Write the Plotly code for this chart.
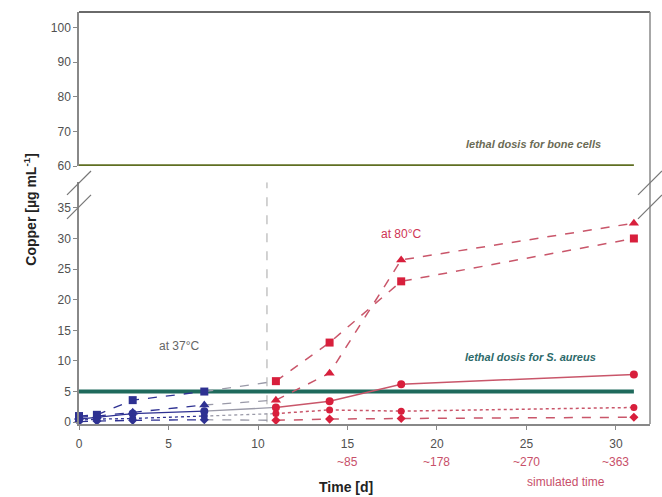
import plotly.graph_objects as go

# Sampling days
days_37 = [0, 1, 3, 7]
days_80 = [11, 14, 18, 31]

# Copper release [µg/mL] per sample, 37 °C phase then 80 °C phase
sq_37 = [1.0, 1.2, 3.6, 5.0]
sq_80 = [6.7, 13.0, 23.0, 30.0]
tri_37 = [0.8, 1.0, 1.6, 2.8]
tri_80 = [3.6, 8.0, 26.5, 32.5]
circ_37 = [0.5, 0.8, 1.4, 1.8]
circ_80 = [2.4, 3.4, 6.2, 7.8]
dot_37 = [0.3, 0.5, 0.6, 1.0]
dot_80 = [1.4, 2.0, 1.8, 2.4]
low_37 = [0.1, 0.2, 0.3, 0.4]
low_80 = [0.3, 0.5, 0.6, 0.8]

lethal_bone = 60
lethal_aureus = 5
phase_switch = 10.5

tick_x = [0, 5, 10, 15, 20, 25, 30]
sim_ticks = [15, 20, 25, 30]
sim_labels = ["~85", "~178", "~270", "~363"]

NAVY = "#2e3192"
RED = "#d81f3c"
REDLINE = "#c9566a"
GREY = "#888888"

series = [
    (sq_37, sq_80, "square", "dash", 8),
    (tri_37, tri_80, "triangle-up", "dash", 9),
    (circ_37, circ_80, "circle", "solid", 8),
    (dot_37, dot_80, "circle", "dot", 7),
    (low_37, low_80, "diamond", "dash", 7),
]

fig = go.Figure()

# vertical marker for the change from 37 °C to 80 °C
fig.add_trace(go.Scatter(x=[phase_switch, phase_switch], y=[0, 39.2], mode="lines",
                         line=dict(color="#c4c4c4", width=1.5, dash="dash"),
                         hoverinfo="skip", showlegend=False, xaxis="x", yaxis="y"))

# lethal dose lines
fig.add_trace(go.Scatter(x=[0, 31], y=[lethal_aureus, lethal_aureus], mode="lines",
                         line=dict(color="#1f6a5c", width=4), showlegend=False,
                         xaxis="x", yaxis="y"))
fig.add_trace(go.Scatter(x=[0, 31], y=[lethal_bone, lethal_bone], mode="lines",
                         line=dict(color="#5f6f22", width=3.5), showlegend=False,
                         xaxis="x2", yaxis="y2", cliponaxis=False))

for s37, s80, sym, dash, size in series:
    # connector between the two temperature phases
    fig.add_trace(go.Scatter(x=[days_37[-1], days_80[0]], y=[s37[-1], s80[0]], mode="lines",
                             line=dict(color="#9a9aa8", width=1.3, dash=dash),
                             showlegend=False, xaxis="x", yaxis="y"))
    fig.add_trace(go.Scatter(x=days_37, y=s37, mode="lines+markers",
                             line=dict(color=NAVY, width=1.3, dash=dash),
                             marker=dict(symbol=sym, size=size, color=NAVY),
                             cliponaxis=False, showlegend=False, xaxis="x", yaxis="y"))
    fig.add_trace(go.Scatter(x=days_80, y=s80, mode="lines+markers",
                             line=dict(color=REDLINE, width=1.5, dash=dash),
                             marker=dict(symbol=sym, size=size, color=RED),
                             cliponaxis=False, showlegend=False, xaxis="x", yaxis="y"))

tickfont = dict(family="Arial, Liberation Sans, sans-serif", size=12, color="#505050")

fig.update_layout(
    width=662, height=497,
    margin=dict(l=79, r=12, t=12, b=73),
    paper_bgcolor="white", plot_bgcolor="white",
    xaxis=dict(domain=[0, 1], range=[0, 31.9], tickvals=tick_x, ticks="outside",
               ticklen=4, tickcolor=GREY, showline=True, linecolor=GREY, linewidth=1.5,
               showgrid=False, zeroline=False, tickfont=tickfont, anchor="y",
               ticklabelstandoff=4),
    xaxis2=dict(domain=[0, 1], matches="x", anchor="y2", visible=False),
    yaxis=dict(domain=[0, 0.587], range=[-0.3, 39.2], tickvals=[0, 5, 10, 15, 20, 25, 30, 35],
               ticks="outside", ticklen=4, tickcolor=GREY, showline=True, linecolor=GREY,
               linewidth=1.5, showgrid=False, zeroline=False, tickfont=tickfont, anchor="x"),
    yaxis2=dict(domain=[0.626, 1], range=[60, 104.5], tickvals=[60, 70, 80, 90, 100],
                ticks="outside", ticklen=4, tickcolor=GREY, showline=True, linecolor=GREY,
                linewidth=1.5, showgrid=False, zeroline=False, tickfont=tickfont, anchor="x2"),
    showlegend=False,
)

# frame: top edge and right edge
fig.add_shape(type="line", xref="paper", yref="paper", x0=0, x1=1, y0=1, y1=1,
              line=dict(color="#6a6a6a", width=2))
fig.add_shape(type="line", xref="paper", yref="paper", x0=1, x1=1, y0=0, y1=1,
              line=dict(color="#8a8a8a", width=1.5))

# axis break marks
for xc in (0, 1):
    for yc in (0.585, 0.527):
        fig.add_shape(type="line", xref="paper", yref="paper",
                      x0=xc - 0.021, x1=xc + 0.021, y0=yc - 0.029, y1=yc + 0.029,
                      line=dict(color="#777777", width=1.2))

ann_font = "Arial, Liberation Sans, sans-serif"
fig.add_annotation(text="<b>Copper [µg mL<sup>-1</sup>]</b>", xref="paper", yref="paper",
                   x=-0.086, y=0.52, xanchor="center", yanchor="middle", textangle=-90,
                   showarrow=False, font=dict(family=ann_font, size=14, color="#222222"))
fig.add_annotation(text="<b>Time [d]</b>", xref="paper", yref="paper", x=0.467, y=-0.153,
                   xanchor="center", yanchor="middle", showarrow=False,
                   font=dict(family=ann_font, size=14, color="#222222"))
for tv, tl in zip(sim_ticks, sim_labels):
    fig.add_annotation(text=tl, x=tv, xref="x", yref="paper", y=-0.092, yanchor="middle",
                       showarrow=False, font=dict(family=ann_font, size=12, color="#c8506a"))
fig.add_annotation(text="simulated time", xref="paper", yref="paper", x=0.853, y=-0.141,
                   xanchor="center", yanchor="middle", showarrow=False,
                   font=dict(family=ann_font, size=12, color="#c8506a"))
fig.add_annotation(text="at 80°C", x=18.0, y=30.8, xref="x", yref="y", showarrow=False,
                   font=dict(family=ann_font, size=12, color="#cf3553"))
fig.add_annotation(text="at 37°C", x=5.6, y=12.5, xref="x", yref="y", showarrow=False,
                   font=dict(family=ann_font, size=12, color="#666666"))
fig.add_annotation(text="<b><i>lethal dosis for S. aureus</i></b>", x=25.2, y=10.6,
                   xref="x", yref="y", showarrow=False,
                   font=dict(family=ann_font, size=11, color="#2d6a6a"))
fig.add_annotation(text="<b><i>lethal dosis for bone cells</i></b>", x=25.4, y=66.5,
                   xref="x2", yref="y2", showarrow=False,
                   font=dict(family=ann_font, size=11, color="#6b6b55"))

fig.write_html("out.html")
